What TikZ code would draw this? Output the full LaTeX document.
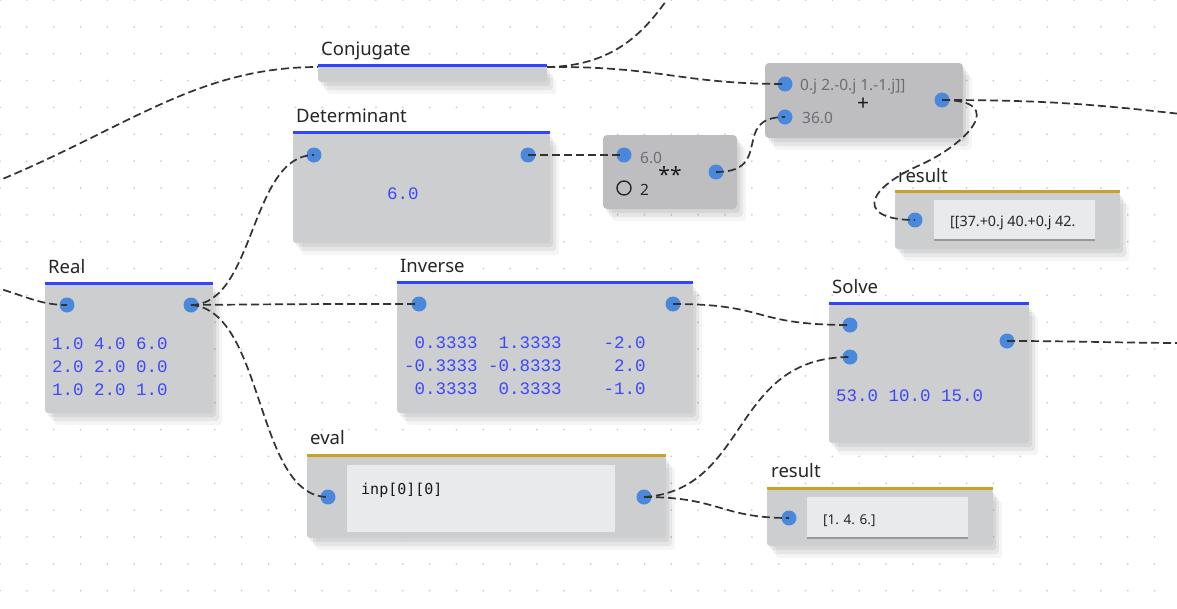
\documentclass[tikz,border=0pt]{standalone}
\usepackage{fontspec}
\setmainfont{Noto Sans}
\newfontfamily\monoC{Liberation Mono}
\newfontfamily\monoD{DejaVu Sans Mono}
\usetikzlibrary{shadows,fit}
\definecolor{bodygray}{RGB}{205,206,208}
\definecolor{opgray}{RGB}{190,190,192}
\definecolor{innergray}{RGB}{233,234,236}
\definecolor{portblue}{RGB}{74,136,220}
\definecolor{barblue}{RGB}{51,68,255}
\definecolor{bargold}{RGB}{203,160,40}
\definecolor{valblue}{RGB}{60,72,250}
\definecolor{wiregray}{RGB}{50,50,50}
\definecolor{dotgray}{RGB}{205,205,205}
\definecolor{optext}{RGB}{110,110,110}
\tikzset{
  shad/.style={drop shadow={shadow xshift=3pt,shadow yshift=-4pt,opacity=.07,fill=black},
               drop shadow={shadow xshift=6pt,shadow yshift=-8pt,opacity=.06,fill=black},
               drop shadow={shadow xshift=9pt,shadow yshift=-12pt,opacity=.04,fill=black}},
  body/.style={fill=bodygray, rounded corners=3pt, inner sep=0pt, shad},
  opbody/.style={fill=opgray, rounded corners=4pt, inner sep=0pt, shad},
  inner/.style={fill=innergray, inner sep=0pt},
  bluebar/.style={draw=barblue, line width=3pt},
  goldbar/.style={draw=bargold, line width=3pt},
  title/.style={anchor=base west, inner sep=0pt, font=\fontsize{18.5}{22}\selectfont, text=black!85},
  port/.style={circle, fill=portblue, minimum size=15pt, inner sep=0pt},
  hollow/.style={circle, draw=black!85, line width=1.4pt, minimum size=14pt, inner sep=0pt},
  mono/.style={anchor=base west, inner sep=0pt, align=left, text=valblue, font=\monoC\fontsize{17.5}{23}\selectfont},
  code/.style={anchor=base west, inner sep=0pt, text=black!90, font=\monoD\fontsize{15}{18}\selectfont},
  restext/.style={anchor=base west, inner sep=0pt, text=black!85, font=\fontsize{13.5}{16}\selectfont},
  optxt/.style={anchor=base west, inner sep=0pt, text=optext, font=\fontsize{15.5}{18}\selectfont},
  opsym/.style={inner sep=0pt, text=black!90, font=\fontsize{21}{24}\selectfont},
  wire/.style={draw=wiregray, line width=1.7pt, dash pattern=on 8pt off 4pt},
}
\begin{document}
\begin{tikzpicture}[x=1pt,y=-1pt]
\useasboundingbox (0,0) rectangle (1177,608);
\clip (0,0) rectangle (1177,608);
\fill[white] (0,0) rectangle (1177,608);
% dot grid
\foreach \i in {0,...,44}{\foreach \j in {0,...,23}{\fill[dotgray] (\i*26.85,\j*26.85) circle (1);}}

% ---------- bodies ----------
\node[body, fit={(318,66) (547,82)}] (conj) {};
\node[body, fit={(293,133) (550,243)}] (det) {};
\node[body, fit={(45,284) (213,413)}] (real) {};
\node[body, fit={(397,283) (693,413)}] (inv) {};
\node[body, fit={(829,304) (1029,443)}] (solve) {};
\node[body, fit={(307,456) (666,538)}] (eval) {};
\node[body, fit={(767,489) (993,546)}] (resB) {};
\node[body, fit={(895,192) (1120,249)}] (resT) {};
\node[opbody, fit={(603,135) (737,209)}] (pow) {};
\node[opbody, fit={(765,63) (963,138)}] (plus) {};

% inner boxes
\node[inner, fit={(347,465) (615,532)}] (evalIn) {};
\node[inner, fit={(807,497) (968,538)}] (resBIn) {};
\node[inner, fit={(934,200) (1095,240)}] (resTIn) {};
\draw[black!40, line width=1.5pt] (resBIn.south west) -- (resBIn.south east);
\draw[black!40, line width=1.5pt] (resTIn.south west) -- (resTIn.south east);

% bars
\draw[bluebar] (conj.north west) -- (conj.north east);
\draw[bluebar] (det.north west) -- (det.north east);
\draw[bluebar] (real.north west) -- (real.north east);
\draw[bluebar] (inv.north west) -- (inv.north east);
\draw[bluebar] (solve.north west) -- (solve.north east);
\draw[goldbar] (eval.north west) -- (eval.north east);
\draw[goldbar] (resB.north west) -- (resB.north east);
\draw[goldbar] (resT.north west) -- (resT.north east);

% titles
\node[title] (tConj) at (321,55) {Conjugate};
\node[title] (tDet) at (296,122) {Determinant};
\node[title] (tReal) at (48,273) {Real};
\node[title] (tInv) at (400,272) {Inverse};
\node[title] (tSolve) at (832,293) {Solve};
\node[title] (tEval) at (310,444) {eval};
\node[title] (tResB) at (771,477) {result};
\node[title] (tResT) at (898,182) {result};

% values (multi-line nodes: base = last line)
\node[mono] (vDet) at (387,199) {6.0};
\node[mono] (vReal) at (52,395) {1.0~4.0~6.0\\2.0~2.0~0.0\\1.0~2.0~1.0};
\node[mono] (vInv) at (404,394) {~0.3333~~1.3333~~~~-2.0\\-0.3333~-0.8333~~~~~2.0\\~0.3333~~0.3333~~~~-1.0};
\node[mono] (vSolve) at (836,401) {53.0~10.0~15.0};
\node[code] (vEval) at (361,494) {inp[0][0]};
\node[restext] (vResB) at (823,524) {[1. 4. 6.]};
\node[restext, font=\fontsize{14.3}{16}\selectfont] (vResT) at (950,226) {[[37.+0.j 40.+0.j 42.};

% op node texts
\node[optxt] (tPowA) at (640,163) {6.0};
\node[optxt, text=black!85] (tPowB) at (640,195) {2};
\node[opsym] (sPow) at (670,175) {**};
\node[optxt] (tPlusA) at (800,90) {0.j 2.-0.j 1.-1.j]]};
\node[optxt] (tPlusB) at (802,123) {36.0};
\node[opsym] (sPlus) at (863,104) {+};

% ports
\node[port] (realIn) at (67,305) {};
\node[port] (realOut) at (191,305) {};
\node[port] (detIn) at (314,155) {};
\node[port] (detOut) at (528,155) {};
\node[port] (invIn) at (419,304) {};
\node[port] (invOut) at (673,304) {};
\node[port] (solveIn1) at (850,325) {};
\node[port] (solveIn2) at (850,357) {};
\node[port] (solveOut) at (1007,341) {};
\node[port] (evalIn1) at (328,497) {};
\node[port] (evalOut) at (644,497) {};
\node[port] (resBIn1) at (789,518) {};
\node[port] (resTIn1) at (915,220) {};
\node[port] (powIn) at (624,155) {};
\node[hollow] (powB) at (624,188) {};
\node[port] (powOut) at (716,172) {};
\node[port] (plusIn1) at (785,84) {};
\node[port] (plusIn2) at (785,117) {};
\node[port] (plusOut) at (942,100) {};

% free ends
\coordinate (conjIn) at (318,67);
\coordinate (conjOut) at (547,67);
\coordinate (offL1) at (-30,192);
\coordinate (offL2) at (-20,284);
\coordinate (offT) at (675,-12);
\coordinate (offR1) at (1190,115);
\coordinate (offR2) at (1190,343);

% wires
\draw[wire] (offL1) .. controls (120,135) and (190,67) .. (conjIn);
\draw[wire] (conjOut) .. controls (620,66) and (650,25) .. (offT);
\draw[wire] (conjOut) .. controls (660,66) and (680,84) .. (plusIn1.center);
\draw[wire] (offL2) .. controls (20,292) and (35,305) .. (realIn.center);
\draw[wire] (realOut.center) .. controls (255,305) and (250,155) .. (detIn.center);
\draw[wire] (realOut.center) .. controls (300,304) and (320,304) .. (invIn.center);
\draw[wire] (realOut.center) .. controls (265,310) and (255,497) .. (evalIn1.center);
\draw[wire] (detOut.center) -- (powIn.center);
\draw[wire] (powOut.center) .. controls (775,172) and (730,117) .. (plusIn2.center);
\draw[wire] (plusOut.center) .. controls (1050,100) and (1100,105) .. (offR1);
\draw[wire] (plusOut.center) .. controls (1010,100) and (965,145) .. (920,165) .. controls (860,192) and (860,220) .. (resTIn1.center);
\draw[wire] (invOut.center) .. controls (770,304) and (750,325) .. (solveIn1.center);
\draw[wire] (evalOut.center) .. controls (750,490) and (730,357) .. (solveIn2.center);
\draw[wire] (evalOut.center) .. controls (720,497) and (720,518) .. (resBIn1.center);
\draw[wire] (solveOut.center) .. controls (1080,341) and (1120,343) .. (offR2);
\end{tikzpicture}
\end{document}
